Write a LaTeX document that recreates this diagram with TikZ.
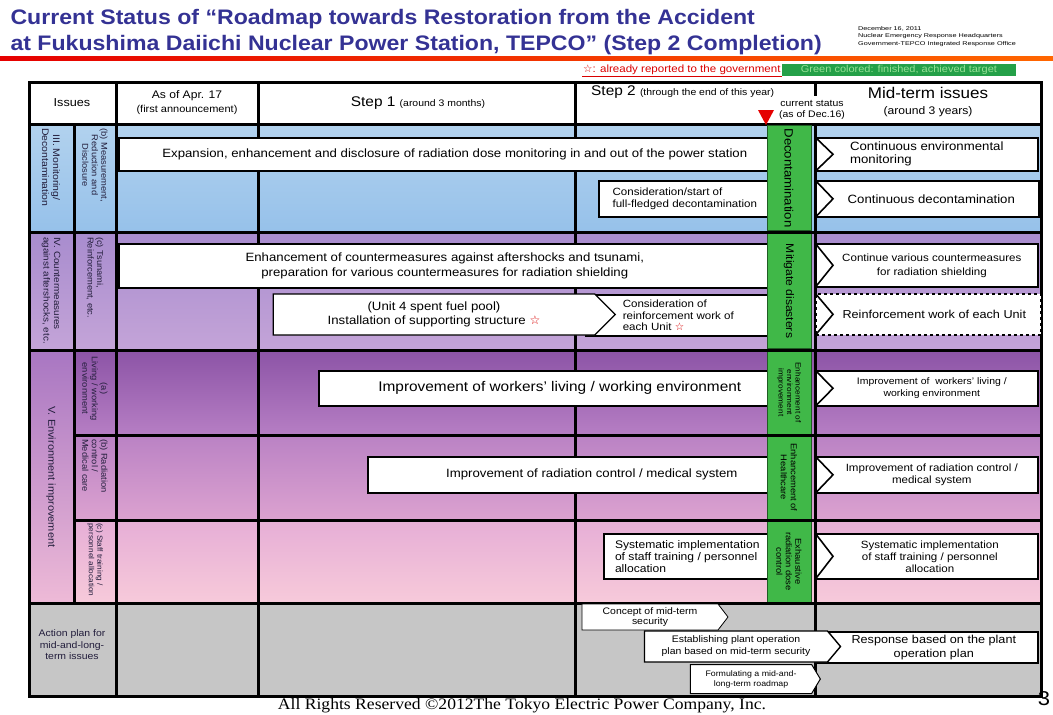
\documentclass[tikz,border=0pt]{standalone}
\usepackage{fontspec}
\setmainfont{Liberation Sans}[FakeStretch=1.1]
\newfontfamily\footfont{Liberation Serif}[FakeStretch=1.1]
\newfontfamily\starfont{DejaVu Sans}
\usepackage{graphicx}
\usepackage{xcolor}
\usepackage{tikz}
\usetikzlibrary{positioning,shapes.symbols}

\definecolor{ttlblue}{RGB}{52,50,148}
\definecolor{barG}{RGB}{64,184,72}
\definecolor{legG}{RGB}{36,160,72}
\definecolor{legT}{RGB}{150,225,150}
\definecolor{iiiT}{RGB}{178,210,238}
\definecolor{iiiB}{RGB}{150,193,234}
\definecolor{ivT}{RGB}{168,140,206}
\definecolor{ivB}{RGB}{196,164,216}
\definecolor{vaT}{RGB}{140,84,166}
\definecolor{vaB}{RGB}{182,126,196}
\definecolor{vbT}{RGB}{186,130,196}
\definecolor{vbB}{RGB}{220,162,208}
\definecolor{vcT}{RGB}{230,174,214}
\definecolor{vcB}{RGB}{247,202,218}
\definecolor{vlT}{RGB}{168,118,194}
\definecolor{vlB}{RGB}{238,186,215}
\definecolor{actG}{RGB}{198,198,198}
\definecolor{labtxt}{RGB}{35,30,60}

\newcommand{\fs}[2]{\fontsize{#1}{#2}\selectfont}
\newcommand{\rstar}{{\starfont\color{red!85!black}☆}}
\newcommand{\chev}[1]{\draw[line width=1.6pt, line join=miter] (#1.north west) -- ([xshift=18pt]#1.west) -- (#1.south west);}

\tikzset{
  gline/.style={line width=3pt, line cap=rect},
  task/.style={draw, fill=white, line width=1.6pt, anchor=north west, inner sep=2pt, align=center},
  goal/.style={task, minimum width=222pt},
  arr/.style={draw, fill=white, line width=1.4pt, shape=signal, signal to=east, inner sep=1pt, align=center},
  gbar/.style={rotate=-90, fill=barG, draw=barG!50!black, line width=0.5pt, minimum height=44pt, inner sep=0pt, align=center, font=\fs{11}{12}},
  lab/.style={rotate=-90, align=center, inner sep=0pt, text=labtxt, font=\fs{9.5}{11}},
  sublab/.style={lab, font=\fs{8.5}{9.5}},
}

\begin{document}
\begin{tikzpicture}[x=1pt,y=-1pt]
\useasboundingbox (0,0) rectangle (1053,715);

% title block
\node[anchor=west, text=ttlblue, font=\fs{21}{24}\bfseries] (ttl1) at (7,19) {Current Status of “Roadmap towards Restoration from the Accident};
\node[anchor=west, text=ttlblue, font=\fs{21}{24}\bfseries] (ttl2) at (7,45) {at Fukushima Daiichi Nuclear Power Station, TEPCO” (Step 2 Completion)};
\node[anchor=north west, align=left, inner sep=0pt, font=\fs{5.5}{7.5}] (info) at (858,26)
  {\scalebox{1.2}[1]{December 16, 2011}\\\scalebox{1.2}[1]{Nuclear Emergency Response Headquarters}\\\scalebox{1.2}[1]{Government-TEPCO Integrated Response Office}};
\shade[left color=red!90!black, right color=orange!80!red] (0,56) rectangle (1053,60);

% legend
\node[anchor=west, inner sep=1pt, text=red!85!black, font=\fs{10.5}{12}] (lgR) at (582,70) {{\starfont ☆}: already reported to the government};
\draw[red!85!black, line width=0.8pt] (lgR.south west) -- (lgR.south east);
\node[anchor=west, fill=legG, text=legT, inner sep=1pt, minimum width=234pt, minimum height=12pt, font=\fs{10}{11}] (lgG) at (lgR.east) {Green colored: finished, achieved target};

% row backgrounds
\shade[top color=iiiT, bottom color=iiiB] (29,124) rectangle (1041,232);
\shade[top color=ivT, bottom color=ivB] (29,232) rectangle (1041,350);
\shade[top color=vaT, bottom color=vaB] (29,350) rectangle (1041,435);
\shade[top color=vbT, bottom color=vbB] (29,435) rectangle (1041,520);
\shade[top color=vcT, bottom color=vcB] (29,520) rectangle (1041,603);
\shade[top color=vlT, bottom color=vlB] (29,350) rectangle (74,603);
\fill[actG] (29,603) rectangle (1041,696);

% grid
\draw[gline] (29,82) -- (1041,82);
\draw[gline] (29,124) -- (1041,124);
\draw[gline] (29,232) -- (1041,232);
\draw[gline] (29,350) -- (1041,350);
\draw[gline] (74,435) -- (1041,435);
\draw[gline] (74,520) -- (1041,520);
\draw[gline] (29,603) -- (1041,603);
\draw[gline] (29,696) -- (1041,696);
\draw[gline] (29,82) -- (29,696);
\draw[gline] (1041,82) -- (1041,696);
\draw[gline] (74,124) -- (74,603);
\draw[gline] (116,82) -- (116,696);
\draw[gline] (258,82) -- (258,696);
\draw[gline] (575,82) -- (575,696);
\draw[gline] (815,82) -- (815,94);
\draw[gline] (815,124) -- (815,696);

% header
\node[font=\fs{11.5}{13}] (hIss) at (72,103) {Issues};
\node[align=center, font=\fs{11}{14}] (hApr) at (187,103) {As of Apr. 17\\{\fs{10}{12}(first announcement)}};
\node[font=\fs{14}{16}] (hS1) at (418,103) {Step 1 {\fs{9.5}{11}(around 3 months)}};
\node[anchor=west, inner sep=0pt, font=\fs{14}{16}] (hS2) at (591,92) {Step 2 {\fs{9.5}{11}(through the end of this year)}};
\node[align=center, inner sep=0pt, font=\fs{9.5}{11.5}] (hCur) at (812,110) {current status\\(as of Dec.16)};
\node[align=center, font=\fs{15.5}{16}] (hMid) at (928,102) {Mid-term issues\\{\fs{11}{14}(around 3 years)}};
\fill[red!90!black] (758,110) -- (774,110) -- (766,125) -- cycle;

% issue labels
\node[lab, anchor=west] (lIII) at (51,128) {III. Monitoring/\\Decontamination};
\node[sublab, anchor=west] (lIIIb) at (95,128) {(b) Measurement,\\Reduction and\\Disclosure};
\node[lab, anchor=west, align=left, font=\fs{9}{10.5}] (lIV) at (51,237) {IV. Countermeasures\\against aftershocks, etc.};
\node[sublab, anchor=west, align=left] (lIVc) at (95,237) {(c) Tsunami,\\Reinforcement, etc.};
\node[lab, font=\fs{10}{11}] (lV) at (51,477) {V. Environment improvement};
\node[sublab, anchor=west] (lVa) at (95,356) {(a)\\Living / working\\environment};
\node[sublab, anchor=west, align=left] (lVb) at (95,439) {(b) Radiation\\control /\\Medical care};
\node[sublab, anchor=west, align=left, font=\fs{7.5}{8.5}] (lVc) at (95,523) {(c) Staff training /\\personnel allocation};
\node[align=center, text=labtxt, font=\fs{9.5}{11.5}] (lAct) at (72,645) {Action plan for\\mid-and-long-\\term issues};

% III monitoring / decontamination
\node[task, minimum width=652pt, minimum height=33pt, font=\fs{12}{13}] (mon) at (118,137) {\hspace{20pt}Expansion, enhancement and disclosure of radiation dose monitoring in and out of the power station};
\node[task, minimum width=172pt, minimum height=36pt, align=left, font=\fs{10.5}{12}] (dec) at (598,180) {Consideration/start of\\full-fledged decontamination};
\node[goal, minimum height=33pt, align=left, font=\fs{12}{13}] (gMon) at (815,137) {Continuous environmental\\monitoring};
\chev{gMon}
\node[goal, minimum width=223pt, minimum height=36pt, font=\fs{12}{13}] (gDec) at (815,180) {\hspace{8pt}Continuous decontamination};
\chev{gDec}

% IV aftershocks
\node[task, minimum width=652pt, minimum height=44pt, font=\fs{12}{14.5}] (aft) at (118,243) {Enhancement of countermeasures against aftershocks and tsunami,\\preparation for various countermeasures for radiation shielding};
\node[task, minimum width=185pt, minimum height=41pt, align=left, font=\fs{10.5}{11.5}] (cons) at (585,294) {Consideration of\\reinforcement work of\\each Unit \rstar};
\node[arr, minimum width=342pt, minimum height=41pt, signal pointer angle=90, font=\fs{12}{14}] (inst) at (434,314.5) {(Unit 4 spent fuel pool)\\Installation of supporting structure \rstar};
\node[goal, minimum height=43pt, font=\fs{10.5}{14}] (gShd) at (815,243) {\hspace{10pt}Continue various countermeasures\\\hspace{10pt}for radiation shielding};
\chev{gShd}
\node[goal, dashed, minimum width=225pt, minimum height=41pt, font=\fs{11.5}{13}] (gRei) at (815,293) {\hspace{12pt}Reinforcement work of each Unit};
\chev{gRei}

% V environment improvement
\node[task, minimum width=452pt, minimum height=35pt, font=\fs{14}{15}] (liv) at (318,370) {\hspace{30pt}Improvement of workers’ living / working environment};
\node[goal, minimum height=35pt, font=\fs{9.5}{12}] (gLiv) at (815,370) {\hspace{10pt}Improvement of\ \ workers’ living /\\\hspace{10pt}working environment};
\chev{gLiv}
\node[task, minimum width=403pt, minimum height=36pt, font=\fs{12}{14}] (rad) at (367,456) {\hspace{45pt}Improvement of radiation control / medical system};
\node[goal, minimum height=36pt, font=\fs{10.5}{12.5}] (gRad) at (815,456) {\hspace{10pt}Improvement of radiation control /\\\hspace{10pt}medical system};
\chev{gRad}
\node[task, minimum width=167pt, minimum height=45pt, align=left, font=\fs{11}{12}] (stf) at (603,533) {Systematic implementation\\of staff training / personnel\\allocation};
\node[goal, minimum height=45pt, font=\fs{10.5}{12}] (gStf) at (815,533) {\hspace{6pt}Systematic implementation\\\hspace{6pt}of staff training / personnel\\\hspace{6pt}allocation};
\chev{gStf}

% action plan
\node[goal, minimum height=31pt, font=\fs{11.5}{13.5}] (gOpr) at (815,631) {\hspace{14pt}Response based on the plant\\\hspace{14pt}operation plan};
\node[arr, line width=0.8pt, minimum width=146pt, minimum height=26pt, signal pointer angle=105, font=\fs{9.5}{10.5}] (con) at (650,617) {Concept of mid-term\\security};
\node[arr, minimum width=196pt, minimum height=31pt, signal pointer angle=100, font=\fs{9.5}{12}] (est) at (736,646.5) {Establishing plant operation\\plan based on mid-term security};
\node[arr, line width=1pt, minimum width=130pt, minimum height=29pt, signal pointer angle=118, font=\fs{8}{10}] (fml) at (751,679) {Formulating a mid-and-\\long-term roadmap};

% current status bar
\node[gbar, minimum width=105pt, font=\fs{12}{13}] (bIII) at (789,178) {Decontamination};
\node[gbar, minimum width=115pt] (bIV) at (789,291) {Mitigate disasters};
\node[gbar, minimum width=83pt, font=\fs{7.5}{8.5}] (bVa) at (789,392.5) {Enhancement of\\environment\\improvement};
\node[gbar, minimum width=83pt, font=\fs{8.5}{10}] (bVb) at (789,477.5) {Enhancement of\\Healthcare};
\node[gbar, minimum width=81pt, font=\fs{8.5}{9.5}] (bVc) at (789,561.5) {Exhaustive\\radiation dose\\control};
\foreach \yy in {232,350,435,520,603} {\draw[gline] (766,\yy) -- (815,\yy);}

% footer
\node[font=\footfont\fs{16}{18}] (foot) at (522,706) {All Rights Reserved ©2012The Tokyo Electric Power Company, Inc.};
\node[font=\fs{20}{22}] (pg) at (1044,699) {3};
\end{tikzpicture}
\end{document}
